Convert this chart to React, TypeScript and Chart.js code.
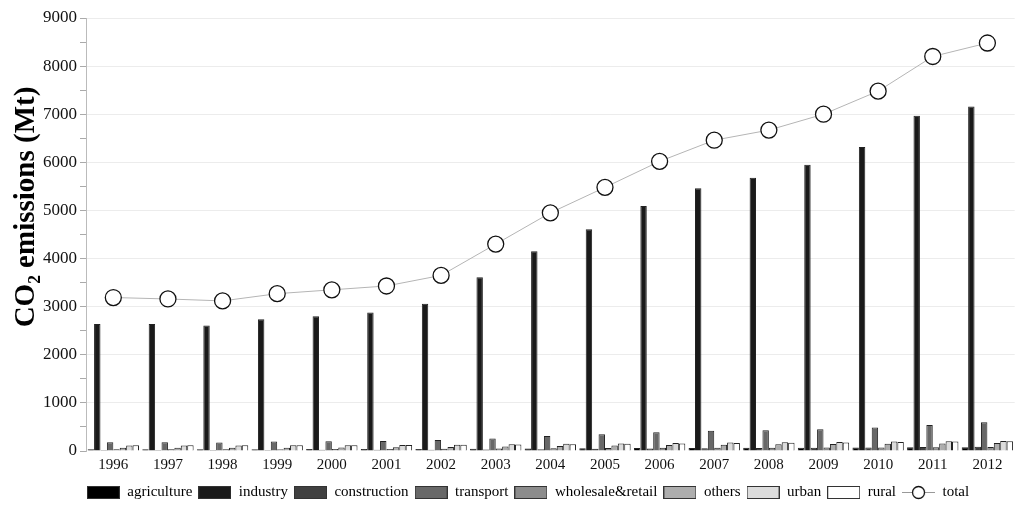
import React, { useEffect, useRef } from "react";
import { Chart, registerables } from "chart.js";

Chart.register(...registerables);

const years = ["1996","1997","1998","1999","2000","2001","2002","2003","2004","2005","2006","2007","2008","2009","2010","2011","2012"];
const agriculture = [35,36,36,38,40,42,44,47,52,55,60,62,65,68,72,76,80];
const industry = [2640,2640,2610,2740,2800,2880,3060,3610,4150,4610,5090,5460,5680,5950,6320,6970,7160];
const construction = [20,20,20,22,24,26,28,32,38,45,52,58,62,68,75,82,88];
const transport = [180,180,178,195,205,210,230,262,310,350,390,420,430,450,490,540,595];
const wholesale = [35,35,35,37,40,42,45,50,55,60,65,68,70,72,75,78,82];
const others = [65,66,66,70,74,78,85,95,105,115,125,132,138,145,150,158,165];
const urban = [115,115,115,118,122,125,130,140,150,158,165,175,180,185,195,205,210];
const rural = [120,118,118,120,122,125,128,135,142,150,158,165,170,175,185,195,205];
const total = [3190,3160,3120,3270,3350,3430,3650,4300,4950,5480,6020,6460,6670,7000,7480,8200,8480];

const barSeries = [
  { label: "agriculture", data: agriculture, color: "#000000" },
  { label: "industry", data: industry, color: "#1a1a1a" },
  { label: "construction", data: construction, color: "#404040" },
  { label: "transport", data: transport, color: "#686868" },
  { label: "wholesale&retail", data: wholesale, color: "#8c8c8c" },
  { label: "others", data: others, color: "#adadad" },
  { label: "urban", data: urban, color: "#dcdcdc" },
  { label: "rural", data: rural, color: "#ffffff" },
];

const yTitle = "CO₂ emissions (Mt)";

const FONT = "'Liberation Serif', 'Times New Roman', serif";

function makeBox(color: string): HTMLCanvasElement {
  const c = document.createElement("canvas");
  c.width = 33; c.height = 13;
  const g = c.getContext("2d")!;
  g.fillStyle = color;
  g.fillRect(0, 0, 33, 13);
  g.strokeStyle = "#333";
  g.lineWidth = 1;
  g.strokeRect(0.5, 0.5, 32, 12);
  return c;
}

function makeLineIcon(): HTMLCanvasElement {
  const c = document.createElement("canvas");
  c.width = 33; c.height = 15;
  const g = c.getContext("2d")!;
  g.strokeStyle = "#999";
  g.lineWidth = 1;
  g.beginPath(); g.moveTo(0, 7.5); g.lineTo(33, 7.5); g.stroke();
  g.fillStyle = "#fff";
  g.strokeStyle = "#111";
  g.lineWidth = 1.3;
  g.beginPath(); g.arc(16.5, 7.5, 6, 0, Math.PI * 2); g.fill(); g.stroke();
  return c;
}

const titlePlugin = {
  id: "yTitleDraw",
  afterDraw(chart: any) {
    const ctx = chart.ctx as CanvasRenderingContext2D;
    ctx.save();
    ctx.translate(27, 207);
    ctx.rotate(-Math.PI / 2);
    ctx.font = `bold 29px ${FONT}`;
    ctx.fillStyle = "#000";
    ctx.textAlign = "center";
    ctx.textBaseline = "middle";
    ctx.fillText(yTitle, 0, 0);
    ctx.restore();
  },
};

export default function App() {
  const ref = useRef<HTMLCanvasElement | null>(null);
  useEffect(() => {
    document.body.style.margin = "0";
    const icons = [...barSeries.map(s => makeBox(s.color)), makeLineIcon()];
    const datasets: any[] = barSeries.map(s => ({
      type: "bar",
      label: s.label,
      data: s.data,
      backgroundColor: s.color,
      borderColor: "#222",
      borderWidth: 1,
      barPercentage: 1,
      categoryPercentage: 0.94,
      order: 1,
    }));
    datasets.push({
      type: "line",
      label: "total",
      data: total,
      borderColor: "#b5b5b5",
      borderWidth: 1,
      pointRadius: 8,
      pointBackgroundColor: "#ffffff",
      pointBorderColor: "#111111",
      pointBorderWidth: 1.3,
      fill: false,
      tension: 0,
      order: 0,
    });
    const chart = new Chart(ref.current!, {
      type: "bar",
      data: { labels: years, datasets },
      plugins: [titlePlugin],
      options: {
        animation: false,
        responsive: false,
        layout: { padding: { top: 18, right: 8, left: 40, bottom: 0 } },
        plugins: {
          tooltip: { enabled: false },
          legend: {
            position: "bottom",
            labels: {
              usePointStyle: true,
              pointStyleWidth: 33,
              boxHeight: 13,
              padding: 6,
              color: "#000",
              font: { family: FONT, size: 15 },
              sort: (a: any, b: any) => a.datasetIndex - b.datasetIndex,
              generateLabels: (ch: any) => {
                const base = Chart.defaults.plugins.legend.labels.generateLabels(ch);
                return base.map((l: any) => ({ ...l, pointStyle: icons[l.datasetIndex] }));
              },
            },
          },
        },
        scales: {
          x: {
            grid: { display: false, drawTicks: false, tickLength: 0 },
            border: { display: false },
            ticks: { color: "#111", font: { family: FONT, size: 15 }, padding: 5 },
          },
          y: {
            min: 0,
            max: 9000,
            border: { display: true, color: "#bbbbbb" },
            grid: {
              color: (c: any) => (c.tick && c.tick.value % 1000 === 0 && c.tick.value !== 0 ? "#ececec" : "transparent"),
              tickColor: "#aaaaaa",
              tickLength: 6,
              drawTicks: true,
            },
            ticks: {
              stepSize: 500,
              color: "#111",
              padding: 3,
              font: { family: FONT, size: 17 },
              callback: (v: any) => (Number(v) % 1000 === 0 ? String(v) : ""),
            },
            title: { display: false },
          },
        },
      },
    } as any);
    return () => chart.destroy();
  }, []);
  return (
    <div style={{ position: "absolute", left: 0, top: 0, width: 1024, height: 510 }}>
      <canvas ref={ref} width={1024} height={510} style={{ width: 1024, height: 510 }} />
    </div>
  );
}
